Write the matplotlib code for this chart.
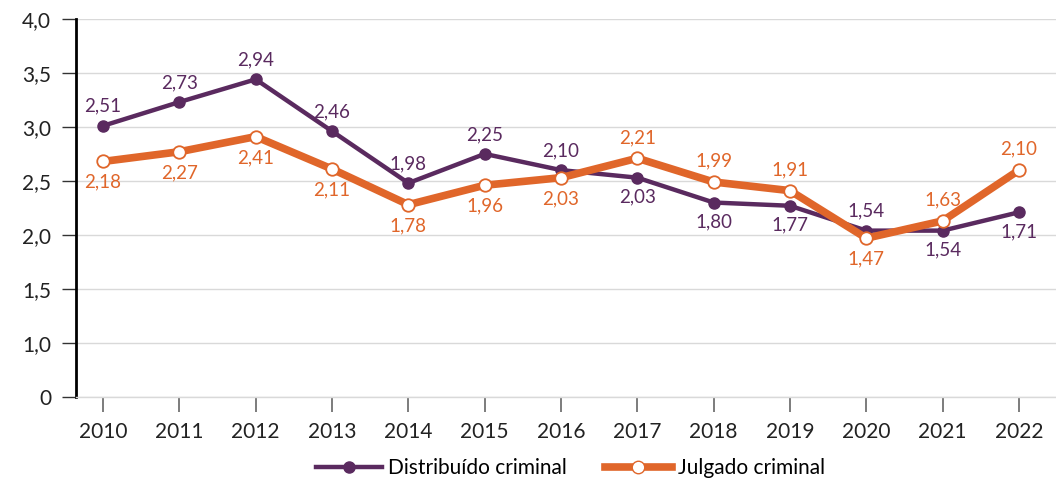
import matplotlib

matplotlib.use("Agg")
import matplotlib.pyplot as plt
from matplotlib.lines import Line2D

plt.rcParams["font.family"] = ["Lato", "DejaVu Sans"]

anos = [2010, 2011, 2012, 2013, 2014, 2015, 2016, 2017, 2018, 2019, 2020, 2021, 2022]
distribuido = [2.51, 2.73, 2.94, 2.46, 1.98, 2.25, 2.10, 2.03, 1.80, 1.77, 1.54, 1.54, 1.71]
julgado = [2.18, 2.27, 2.41, 2.11, 1.78, 1.96, 2.03, 2.21, 1.99, 1.91, 1.47, 1.63, 2.10]
# posição do rótulo: 1 = acima, -1 = abaixo
pos_distribuido = [1, 1, 1, 1, 1, 1, 1, -1, -1, -1, 1, -1, -1]
pos_julgado = [-1, -1, -1, -1, -1, -1, -1, 1, 1, 1, -1, 1, 1]

y_ticks = [0, 0.5, 1.0, 1.5, 2.0, 2.5, 3.0, 3.5]
y_labels = ["0", "1,0", "1,5", "2,0", "2,5", "3,0", "3,5", "4,0"]

ROXO = "#5a2a5f"
LARANJA = "#e0662a"

fig = plt.figure(figsize=(10.56, 4.83), dpi=100)
ax = fig.add_axes([0.072, 0.178, 0.928, 0.783])

ax.plot(anos, distribuido, color=ROXO, linewidth=3.2, marker="o", markersize=8,
        markerfacecolor=ROXO, markeredgecolor=ROXO, zorder=3)
ax.plot(anos, julgado, color=LARANJA, linewidth=5.5, marker="o", markersize=9,
        markerfacecolor="white", markeredgecolor=LARANJA, markeredgewidth=1.3, zorder=4)


def fmt(v):
    return f"{v:.2f}".replace(".", ",")


for x, v, p in zip(anos, distribuido, pos_distribuido):
    ax.annotate(fmt(v), (x, v), xytext=(0, 14 * p), textcoords="offset points",
                ha="center", va="center", color=ROXO, fontsize=13.5, zorder=5)
for x, v, p in zip(anos, julgado, pos_julgado):
    ax.annotate(fmt(v), (x, v), xytext=(0, 15 * p), textcoords="offset points",
                ha="center", va="center", color=LARANJA, fontsize=13.5, zorder=5)

ax.set_xlim(2009.646, 2022.485)
ax.set_ylim(0, 3.5)
ax.set_xticks(anos)
ax.set_xticklabels([str(a) for a in anos], fontsize=15, color="#222222")
ax.set_yticks(y_ticks)
ax.set_yticklabels(y_labels, fontsize=15, color="#222222")

ax.grid(axis="y", color="#d9d9d9", linewidth=1)
ax.set_axisbelow(True)
for s in ["top", "right"]:
    ax.spines[s].set_visible(False)
ax.spines["left"].set_color("black")
ax.spines["left"].set_linewidth(2)
ax.spines["bottom"].set_color("#d9d9d9")
ax.spines["bottom"].set_linewidth(1)
ax.tick_params(axis="y", length=10, width=1, color="#333333", pad=8)
ax.tick_params(axis="x", length=11, width=1.2, color="#666666", pad=7)

handles = [
    Line2D([], [], color=ROXO, linewidth=3.2, marker="o", markersize=8,
           markerfacecolor=ROXO, markeredgecolor=ROXO),
    Line2D([], [], color=LARANJA, linewidth=5.5, marker="o", markersize=9,
           markerfacecolor="white", markeredgecolor=LARANJA),
]
fig.legend(handles, ["Distribuído criminal", "Julgado criminal"], loc="center",
           bbox_to_anchor=(0.54, 0.031), ncol=2, frameon=False, fontsize=15,
           handlelength=3.2, handletextpad=0.3, columnspacing=1.8)

fig.savefig("out.png", dpi=100)
